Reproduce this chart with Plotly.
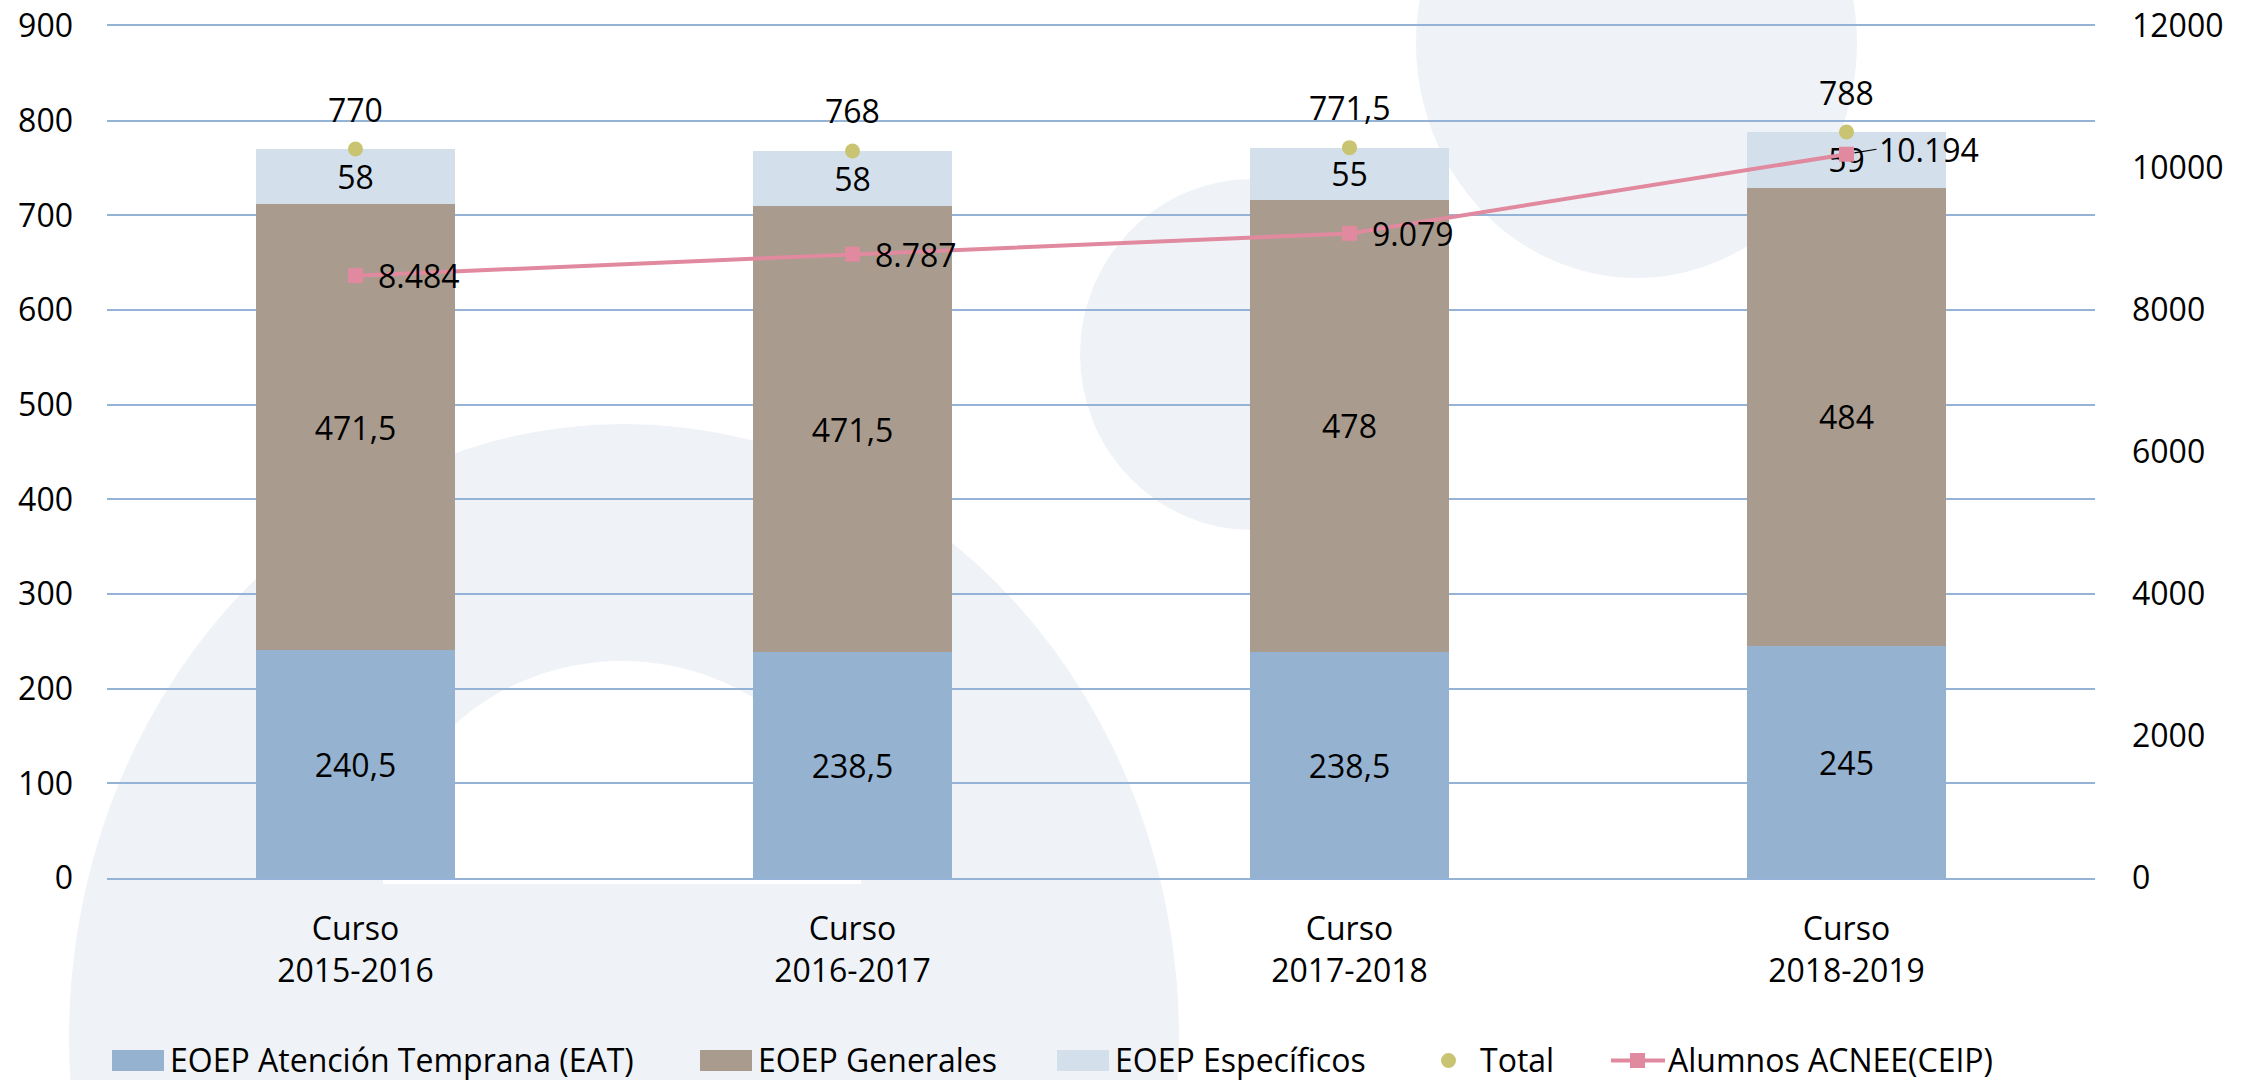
import plotly.graph_objects as go

# datos
cursos = ['Curso<br>2015-2016', 'Curso<br>2016-2017', 'Curso<br>2017-2018', 'Curso<br>2018-2019']
eat = [240.5, 238.5, 238.5, 245]
generales = [471.5, 471.5, 478, 484]
especificos = [58, 58, 55, 59]
total = [770, 768, 771.5, 788]
alumnos = [8484, 8787, 9079, 10194]

nombres = ['EOEP Atención Temprana (EAT)', 'EOEP Generales', 'EOEP Específicos',
           'Total', 'Alumnos ACNEE(CEIP)']
colores = ['#95B3D0', '#A99B8D', '#D3DFEB', '#C9C472', '#E0899F']

W, H = 2251, 1080
PL, PT, PR, PB = 107, 26, 2095, 878   # área del gráfico en la página
FONT = 'Open Sans'
FS = 32
CIRC = '#EFF3F7'
GRID = '#95B3D7'


def px(x):
    return (x - PL) / (PR - PL)


def py(y):
    return (PB - y) / (PB - PT)


fig = go.Figure()

# barras apiladas
for serie, nombre, color in zip([eat, generales, especificos], nombres[:3], colores[:3]):
    fig.add_trace(go.Bar(
        x=cursos, y=serie, name=nombre,
        marker=dict(color=color, line=dict(width=0)),
        width=0.4,
        texttemplate='%{y:,.1~f}',
        textposition='inside', insidetextanchor='middle', textangle=0,
        textfont=dict(size=FS, color='black', family=FONT),
    ))

# total (puntos)
fig.add_trace(go.Scatter(
    x=cursos, y=total, name=nombres[3], mode='markers',
    marker=dict(color=colores[3], size=15, symbol='circle'),
))

# alumnos ACNEE (eje derecho)
fig.add_trace(go.Scatter(
    x=cursos, y=alumnos, name=nombres[4], mode='lines+markers',
    yaxis='y2',
    line=dict(color=colores[4], width=4),
    marker=dict(color=colores[4], size=15, symbol='square'),
))

# etiquetas de datos
for c, v in zip(cursos, total):
    fig.add_annotation(x=c, y=v, text=f'{v:g}'.replace('.', ','),
                       showarrow=False, yshift=40, font=dict(size=FS, color='black', family=FONT))
for i, (c, v) in enumerate(zip(cursos, alumnos)):
    txt = f'{v:,}'.replace(',', '.')
    if i < len(alumnos) - 1:
        fig.add_annotation(x=c, y=v, yref='y2', text=txt,
                           showarrow=False, xanchor='left', xshift=20,
                           font=dict(size=FS, color='black', family=FONT))
    else:
        # la última etiqueta está desplazada, con línea guía
        fig.add_annotation(x=c, y=v, yref='y2', text=txt,
                           showarrow=True, arrowhead=0, arrowwidth=1.2, arrowcolor='black',
                           ax=30, ay=-5, standoff=8, xanchor='left',
                           font=dict(size=FS, color='black', family=FONT))

# fondo: circulos decorativos
def fondo(tipo, x0, x1, y0, y1, color):
    fig.add_shape(type=tipo, xref='paper', yref='paper', layer='below',
                  x0=px(x0), x1=px(x1), y0=py(y0), y1=py(y1),
                  fillcolor=color, line=dict(width=0))


fondo('circle', 69, 1179, 424, 1652, CIRC)
fondo('circle', 383, 861, 661, 1107, 'white')
fondo('rect', 380, 864, 884, 1110, CIRC)
fondo('circle', 1080, 1425, 179, 530, CIRC)
fondo('circle', 1416, 1857, -192, 278, CIRC)

# leyenda
LY = 1059
for x0, nombre, color in zip([112, 700, 1057], nombres[:3], colores[:3]):
    fig.add_shape(type='rect', xref='paper', yref='paper',
                  x0=px(x0), x1=px(x0 + 52), y0=py(LY - 9), y1=py(LY + 12),
                  fillcolor=color, line=dict(width=0))
    fig.add_annotation(xref='paper', yref='paper', x=px(x0 + 56), y=py(LY), text=nombre,
                       showarrow=False, xanchor='left', yanchor='middle',
                       font=dict(size=FS, color='black', family=FONT))
fig.add_shape(type='circle', xref='paper', yref='paper',
              x0=px(1441), x1=px(1456), y0=py(LY - 6), y1=py(LY + 9),
              fillcolor=colores[3], line=dict(width=0))
fig.add_annotation(xref='paper', yref='paper', x=px(1478), y=py(LY), text=nombres[3],
                   showarrow=False, xanchor='left', yanchor='middle',
                   font=dict(size=FS, color='black', family=FONT))
fig.add_shape(type='line', xref='paper', yref='paper',
              x0=px(1611), x1=px(1665), y0=py(LY + 1.5), y1=py(LY + 1.5),
              line=dict(color=colores[4], width=4))
fig.add_shape(type='rect', xref='paper', yref='paper',
              x0=px(1630), x1=px(1645), y0=py(LY - 6), y1=py(LY + 9),
              fillcolor=colores[4], line=dict(width=0))
fig.add_annotation(xref='paper', yref='paper', x=px(1666), y=py(LY), text=nombres[4],
                   showarrow=False, xanchor='left', yanchor='middle',
                   font=dict(size=FS, color='black', family=FONT))

fig.update_layout(
    width=W, height=H,
    margin=dict(l=PL, r=W - PR, t=PT, b=H - PB, autoexpand=False),
    barmode='stack',
    separators=',.',
    paper_bgcolor='white',
    plot_bgcolor='rgba(0,0,0,0)',
    font=dict(family=FONT, size=FS, color='black'),
    uniformtext=dict(minsize=FS, mode='show'),
    showlegend=False,
    xaxis=dict(range=[-0.5, 3.5], showgrid=False, zeroline=False,
               showline=True, mirror=True, linecolor=GRID, linewidth=2,
               ticks='', ticklabelstandoff=22, tickfont=dict(size=FS)),
    yaxis=dict(range=[0, 900], dtick=100, showgrid=True, gridcolor=GRID, gridwidth=2,
               zeroline=False, ticks='', ticklabelstandoff=33, ticklabeloverflow='allow',
               tickfont=dict(size=FS)),
    yaxis2=dict(range=[0, 12000], dtick=2000, tickformat='d', overlaying='y', side='right',
                showgrid=False, zeroline=False, ticks='', ticklabelstandoff=36,
                ticklabeloverflow='allow', tickfont=dict(size=FS)),
)

# sin margen en el body para que la figura ocupe toda la ventana
fig.write_html('out.html', config={'displayModeBar': False},
               post_script="document.body.style.margin='0';")
